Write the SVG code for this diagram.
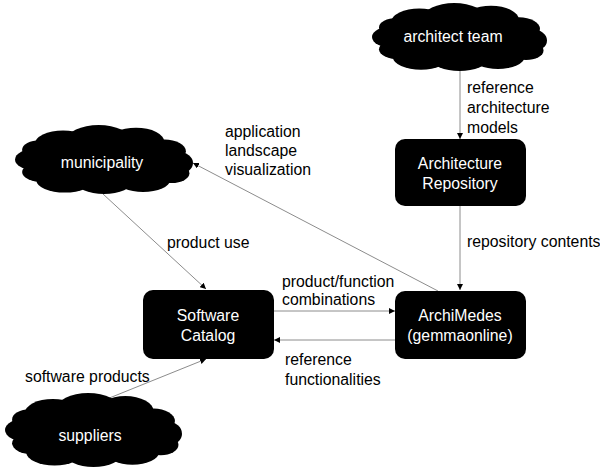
<svg xmlns="http://www.w3.org/2000/svg" width="600" height="467" viewBox="0 0 600 467">
<style>
text{font-family:"Liberation Sans",Arial,sans-serif;font-size:15.8px}
.w{fill:#fff;text-anchor:middle}
.l{fill:#000}
.box{fill:#000}
.c{stroke:#8c8c8c;stroke-width:1;fill:none;marker-end:url(#ah)}
</style>
<defs>
<marker id="ah" viewBox="0 0 10 10" refX="10" refY="5" markerWidth="6" markerHeight="6" markerUnits="userSpaceOnUse" orient="auto">
<path d="M0,0 L10,5 L0,10 z" fill="#000"/>
</marker>
<symbol id="cloud" viewBox="0 0 100 100" preserveAspectRatio="none">
<g fill="#000">
<ellipse cx="50" cy="52" rx="42" ry="36"/>
<ellipse cx="27" cy="28" rx="16" ry="20"/>
<ellipse cx="47" cy="22" rx="18" ry="22"/>
<ellipse cx="68" cy="25" rx="16" ry="21"/>
<ellipse cx="84" cy="38" rx="12" ry="17"/>
<ellipse cx="14" cy="36" rx="10" ry="14"/>
<ellipse cx="12" cy="50" rx="12" ry="16"/>
<ellipse cx="16" cy="68" rx="12" ry="15"/>
<ellipse cx="92" cy="55" rx="8" ry="16"/>
<ellipse cx="28" cy="80" rx="16" ry="18"/>
<ellipse cx="50" cy="82" rx="16" ry="18"/>
<ellipse cx="72" cy="80" rx="15" ry="17"/>
<ellipse cx="88" cy="70" rx="10" ry="14"/>
</g>
</symbol>
</defs>
<g id="connectors">
<line class="c" x1="460" y1="71" x2="460" y2="139"/>
<line class="c" x1="460" y1="206" x2="460" y2="290"/>
<line class="c" x1="438" y1="291" x2="193" y2="163"/>
<line class="c" x1="103" y1="194" x2="206" y2="289"/>
<line class="c" x1="274" y1="311" x2="395" y2="311"/>
<line class="c" x1="395" y1="340" x2="274" y2="340"/>
<line class="c" x1="97" y1="403" x2="206" y2="359"/>
</g>
<g id="labels">
<text class="l" x="467" y="93">reference</text>
<text class="l" x="467" y="113">architecture</text>
<text class="l" x="467" y="133">models</text>
<text class="l" x="467" y="247">repository contents</text>
<text class="l" x="225" y="137">application</text>
<text class="l" x="225" y="156">landscape</text>
<text class="l" x="225" y="175">visualization</text>
<text class="l" x="167" y="248">product use</text>
<text class="l" x="282" y="287">product/function</text>
<text class="l" x="282" y="305">combinations</text>
<text class="l" x="285" y="365">reference</text>
<text class="l" x="285" y="385">functionalities</text>
<text class="l" x="25" y="382">software products</text>
</g>
<g id="architect-team">
<use href="#cloud" x="372" y="3" width="175" height="68"/>
<text class="w" x="453" y="42">architect team</text>
</g>
<g id="municipality">
<use href="#cloud" x="15" y="125" width="178" height="69"/>
<text class="w" x="102" y="168">municipality</text>
</g>
<g id="suppliers">
<use href="#cloud" x="5" y="393" width="177" height="74"/>
<text class="w" x="90" y="441">suppliers</text>
</g>
<g id="architecture-repository">
<rect class="box" x="395" y="139" width="131" height="67" rx="10"/>
<text class="w" x="460" y="169">Architecture</text>
<text class="w" x="460" y="189">Repository</text>
</g>
<g id="software-catalog">
<rect class="box" x="143" y="290" width="131" height="69" rx="10"/>
<text class="w" x="208" y="321">Software</text>
<text class="w" x="208" y="341">Catalog</text>
</g>
<g id="archimedes">
<rect class="box" x="395" y="291" width="131" height="68" rx="10"/>
<text class="w" x="460" y="321">ArchiMedes</text>
<text class="w" x="460" y="341">(gemmaonline)</text>
</g>
</svg>
